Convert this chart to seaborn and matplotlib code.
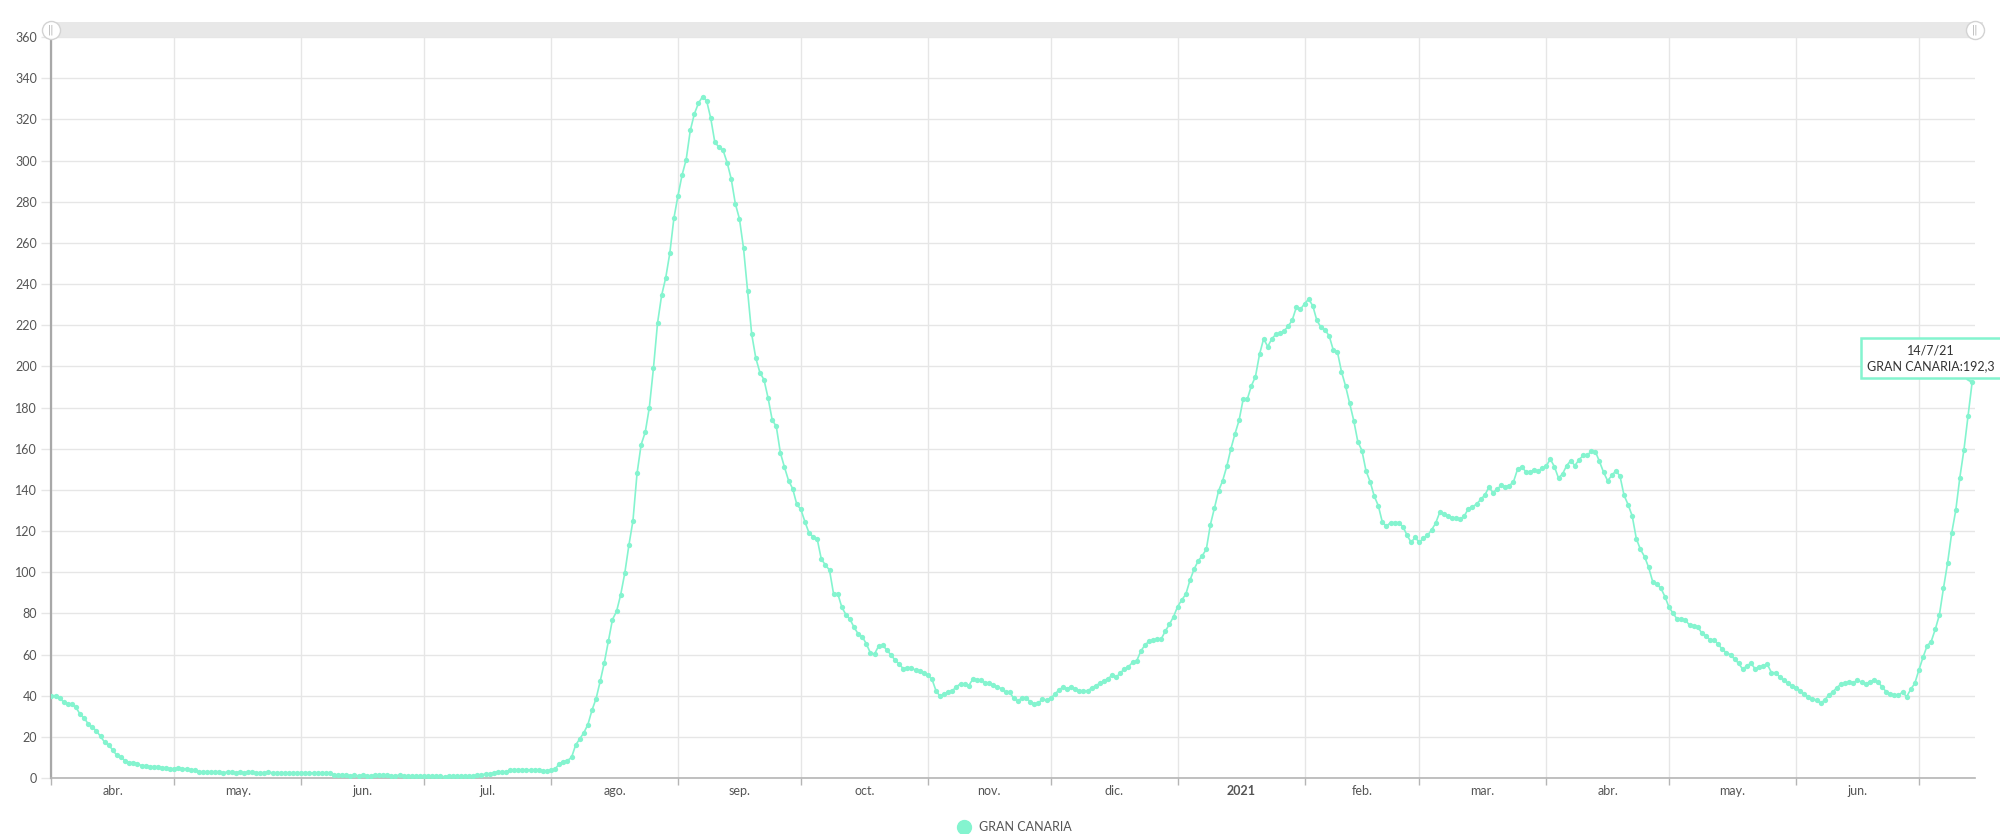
import pandas as pd
import seaborn as sns
import matplotlib.pyplot as plt
import matplotlib.dates as mdates
from matplotlib.patches import Rectangle
from matplotlib.lines import Line2D

# Valores diarios (Gran Canaria), 1/4/2020 - 14/7/2021
abr_2020 = [40, 40, 38.9, 36.9, 36.1, 35.8, 34.3, 31, 29.1, 26.3,
            24.7, 22.9, 20.2, 17.4, 16.1, 13.5, 11, 10, 8.5, 7.5,
            7.5, 7, 6, 6, 5.5, 5.5, 5.5, 5, 5, 4.5]
may_2020 = [4.5, 5, 4.5, 4.5, 4, 4, 3, 3, 3, 3,
            3, 3, 2.5, 3, 3, 2.5, 3, 2.5, 3, 3,
            2.5, 2.5, 2.5, 3, 2.5, 2.5, 2.5, 2.5, 2.5, 2.5, 2.5]
jun_2020 = [2.5, 2.5, 2.5, 2.5, 2.5, 2.5, 2.5, 2.5, 1.5, 1.5,
            1.5, 1.5, 1, 1.5, 1, 1.5, 1, 1, 1.5, 1.5,
            1.5, 1.5, 1, 1, 1.5, 1, 1, 1, 1, 1]
jul_2020 = [1, 1, 1, 1, 1, 0.5, 1, 1, 1, 1,
            1, 1, 1, 1.5, 1.5, 2, 2, 2.5, 3, 3,
            3, 4, 4, 4, 4, 4, 4, 4, 4, 3.5, 3.5]
ago_2020 = [3.7, 4.3, 7, 8, 8.5, 10, 16, 19, 22, 26,
            33, 38.6, 47, 56, 66.5, 77, 81, 89, 99.5, 113,
            125, 148, 162, 168, 180, 199, 221, 234.5, 243, 255, 272]
sep_2020 = [283, 293, 300.5, 314.6, 322.7, 327.9, 331, 329, 320.5, 308.8,
            306.6, 305, 299, 291, 279, 271.7, 257.4, 236.6, 215.6, 204,
            197, 193.5, 184.6, 174, 170.8, 158, 151, 144.5, 140.6, 133]
oct_2020 = [130.5, 124.5, 119, 117.3, 116, 106.3, 103.5, 101, 89.3, 89.6,
            83, 79.4, 77.1, 73.2, 70, 68.7, 65.1, 60.7, 60.3, 64.2,
            64.5, 62.2, 59.8, 57.3, 55.4, 53.1, 53.6, 53.6, 52.3, 52.2, 51.2]
nov_2020 = [49.9, 48.1, 42.4, 39.7, 40.8, 41.9, 42.4, 44.4, 45.8, 45.5,
            44.9, 48.1, 47.8, 47.6, 46.3, 46.2, 45, 44.4, 43.4, 41.6,
            41.6, 38.7, 37.4, 39, 39, 37.1, 35.8, 36.6, 38.2, 37.9]
dic_2020 = [38.9, 40.6, 42.8, 44.1, 43.4, 44.4, 43.1, 42.4, 42.4, 42.4,
            43.7, 44.9, 46, 47.3, 48.3, 49.9, 48.9, 51.2, 52.8, 54.1,
            56.2, 56.9, 61.6, 64.6, 66.4, 67.1, 67.4, 67.6, 71.4, 74.7, 78.4]
ene_2021 = [83.3, 86.5, 89.3, 96, 101.4, 105.4, 108, 111.1, 123.1, 131.3,
            139.5, 144.5, 151.4, 159.9, 167.2, 173.8, 184, 184, 190.5, 195,
            205.9, 213.4, 209.6, 213.4, 215.6, 216.1, 217.3, 219.4, 222.6, 228.8, 227.8]
feb_2021 = [230.4, 232.7, 229.4, 222.3, 219, 217.7, 214.8, 208, 207.2, 197.5,
            190.5, 182.1, 173.7, 163.4, 159.1, 149.2, 144, 137, 132.3, 124.2,
            122.4, 124.1, 124.1, 124.1, 122.1, 118.1, 114.5, 116.9]
mar_2021 = [114.5, 116.5, 117.9, 120.5, 123.8, 129.1, 128.3, 127.5, 126.4, 126.4,
            125.7, 127.3, 130.9, 131.9, 133, 135.4, 137.4, 141.3, 138.7, 140.3,
            142.2, 141.6, 142.1, 143.9, 150, 151.2, 148.9, 148.6, 149.7, 149.1, 150.5]
abr_2021 = [151.6, 154.9, 151.3, 145.7, 147.8, 151.8, 154.2, 151.8, 154.6, 156.7,
            156.7, 158.9, 158.6, 153.8, 148.6, 144.4, 147, 149.2, 146.8, 137.4,
            132.8, 127.3, 116.3, 111.1, 107.6, 102.4, 95.4, 94.1, 92.2, 88.1]
may_2021 = [82.9, 80, 77.1, 77.2, 76.8, 74.2, 74, 73.6, 70.3, 69,
            67.2, 67.1, 65, 62.5, 60.9, 59.9, 57.7, 55.7, 52.8, 54.6,
            55.7, 53.1, 54.1, 54.4, 55.2, 51.2, 51.2, 49.2, 47.6, 46, 44.7]
jun_2021 = [43.9, 42.4, 40.6, 39.2, 38.4, 37.9, 36.3, 37.9, 40.3, 41.9,
            43.9, 45.7, 46, 46.8, 46.3, 47.6, 46.5, 45.7, 46.8, 47.6,
            46.6, 44.4, 41.9, 40.8, 40.2, 40.2, 41.8, 39.5, 43.1, 46]
jul_2021 = [52.5, 58.6, 64.2, 66.3, 72.3, 79.2, 92.2, 104.4, 118.9, 130,
            146, 159.5, 175.7, 192.3]

serie = "GRAN CANARIA"
etiquetas_mes = ["abr.", "may.", "jun.", "jul.", "ago.", "sep.", "oct.", "nov.",
                 "dic.", "2021", "feb.", "mar.", "abr.", "may.", "jun."]
yticks = list(range(0, 361, 20))

valores = (abr_2020 + may_2020 + jun_2020 + jul_2020 + ago_2020 + sep_2020
           + oct_2020 + nov_2020 + dic_2020 + ene_2021 + feb_2021 + mar_2021
           + abr_2021 + may_2021 + jun_2021 + jul_2021)
fechas = pd.date_range("2020-04-01", periods=len(valores), freq="D")
df = pd.DataFrame({"fecha": fechas, "valor": valores})

verde = "#84f4cf"
rejilla = "#e6e6e6"
gris_txt = "#555555"

sns.set_theme(style="white")
plt.rcParams["font.family"] = ["Lato", "DejaVu Sans"]

fig, ax = plt.subplots(figsize=(20, 8.34), dpi=100)
fig.subplots_adjust(left=0.0255, right=0.9875, bottom=0.0671, top=0.9556)

sns.lineplot(data=df, x="fecha", y="valor", ax=ax, color=verde, linewidth=1.2,
             marker="o", markersize=3.8, markeredgewidth=0, legend=False, zorder=3)

# eje x: rejilla al inicio de cada mes, etiqueta en el centro del mes
inicios = pd.date_range("2020-04-01", "2021-07-01", freq="MS")
centros = [a + (b - a) / 2 for a, b in zip(inicios[:-1], inicios[1:])]
ax.set_xticks(mdates.date2num(inicios))
ax.set_xticklabels([])
ax.set_xticks(mdates.date2num(centros), minor=True)
ax.set_xticklabels(etiquetas_mes, minor=True)
for lbl in ax.get_xticklabels(minor=True):
    if lbl.get_text() == "2021":
        lbl.set_fontweight("bold")
        lbl.set_color("#333333")
ax.set_xlim(mdates.date2num(fechas[0]) - 0.1, mdates.date2num(fechas[-1]) + 0.7)
ax.tick_params(axis="x", which="major", bottom=True, length=5, width=1, color="#b5b5b5")
ax.tick_params(axis="x", which="minor", bottom=True, length=0, pad=5,
               labelsize=9, labelcolor=gris_txt)

ax.set_ylim(0, 360)
ax.set_yticks(yticks)
ax.tick_params(axis="y", left=True, length=7, width=1, color=rejilla,
               labelsize=9, labelcolor=gris_txt, pad=3)

ax.grid(True, which="major", color=rejilla, linewidth=1)
ax.set_axisbelow(True)
ax.set_xlabel("")
ax.set_ylabel("")
for s in ["top", "right"]:
    ax.spines[s].set_visible(False)
ax.spines["left"].set_color("#a8a8a8")
ax.spines["left"].set_linewidth(1.6)
ax.spines["bottom"].set_color("#b5b5b5")
ax.spines["bottom"].set_linewidth(1.2)

# barra de desplazamiento superior
ax.add_patch(Rectangle((0, 1.0), 1.004, 0.0202, transform=ax.transAxes,
                       facecolor="#e8e8e8", edgecolor="none", clip_on=False))
ax.plot([0, 1], [1.0094, 1.0094], transform=ax.transAxes, ls="", marker="o", ms=13,
        mfc="white", mec="#d3d3d3", mew=1, clip_on=False, zorder=6)
for xh in [0, 1]:
    ax.text(xh, 1.0094, "||", transform=ax.transAxes, ha="center", va="center",
            fontsize=7, family="DejaVu Sans", color="#b0b0b0", zorder=7)

# tooltip en el ultimo punto
ultimo = df.iloc[-1]
f = ultimo["fecha"]
txt = f"{f.day}/{f.month}/{f:%y}\n{serie}:{str(ultimo['valor']).replace('.', ',')}"
ax.annotate(txt, xy=(mdates.date2num(f), ultimo["valor"]), xytext=(-41, 24),
            textcoords="offset pixels", ha="center", va="center", fontsize=9,
            color="#333333", linespacing=1.4, annotation_clip=False, zorder=8,
            bbox=dict(boxstyle="square,pad=0.5", fc="white", ec=verde, lw=1.8),
            arrowprops=dict(arrowstyle="-", color=verde, lw=1.5, shrinkA=0, shrinkB=0))

# leyenda inferior
handle = Line2D([], [], ls="", marker="o", ms=10, color=verde)
fig.legend(handles=[handle], labels=[serie], loc="center", bbox_to_anchor=(0.506, 0.008),
           frameon=False, fontsize=9, handletextpad=0.2, labelcolor=gris_txt)

fig.savefig("out.png", dpi=100, facecolor="white")
